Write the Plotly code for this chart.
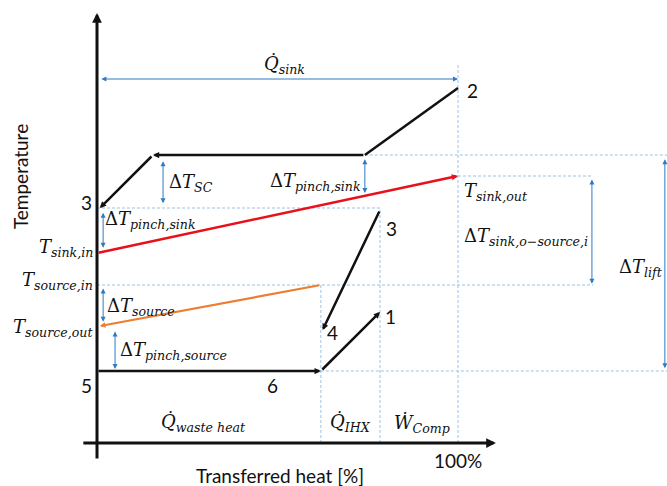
import plotly.graph_objects as go

# ---- cycle breakpoints: transferred heat [% of sink heat] ----
q_start = 0.0
q_waste = 62.0        # end of the waste-heat (evaporator) section, state 6
q_ihx = 78.4          # end of the internal heat exchanger section, state 1
q_total = 100.0       # compressor work completes the 100 %
q_cond_in = 74.2      # start of condensation (sink pinch point)
q_cond_out = 15.5     # end of condensation
q_sc_out = 0.8        # after subcooling, state 3

# ---- temperatures (arbitrary scale) ----
T_evap = 18.0         # states 5 and 6
T_1 = 32.75
T_2 = 88.75
T_cond = 72.0
T_3 = 58.75
T_4 = 28.25
T_sink = [47.5, 66.75]      # sink in / out
T_source = [39.5, 29.25]    # source in / out
T_qsink = 91.0              # height of the Q_sink dimension line

# x positions of the dimension arrows on the right
x_dim_sink_source = 137.1
x_dim_lift = 157.3

BLACK = "#111111"
RED = "#E8101A"
ORANGE = "#ED7D31"
BLUE = "#2E7BC4"
LIGHT = "#9DC3E6"
MATH = "DejaVu Serif"
SANS = "Lato"
DASH = "3px,2px"


def sink_T(q):
    return T_sink[0] + (T_sink[1] - T_sink[0]) * q / q_total


def source_T(q):
    return T_source[1] + (T_source[0] - T_source[1]) * q / q_waste


fig = go.Figure()
ann = []


def line(xs, ys, color, width, dash=None):
    fig.add_trace(go.Scatter(x=xs, y=ys, mode="lines", hoverinfo="skip",
                             line=dict(color=color, width=width, dash=dash),
                             showlegend=False))


def arrow(x0, y0, x1, y1, color, width, size=0.5, side="end"):
    """Line from (x0, y0) to (x1, y1) with an arrow head at the end."""
    ann.append(dict(x=x1, y=y1, ax=x0, ay=y0, xref="x", yref="y",
                    axref="x", ayref="y", text="", showarrow=True,
                    arrowhead=2, startarrowhead=2, arrowsize=size,
                    startarrowsize=size, arrowwidth=width, arrowcolor=color,
                    arrowside=side, standoff=0, startstandoff=0))


def label(x, y, text, size=18, font=MATH, xanchor="center", color=BLACK,
          angle=0):
    ann.append(dict(x=x, y=y, xref="x", yref="y", text=text, showarrow=False,
                    xanchor=xanchor, yanchor="middle", textangle=angle,
                    font=dict(family=font, size=size, color=color)))


def math(main, sub, delta=False):
    prefix = "Δ" if delta else ""
    return "%s<i>%s<sub>%s</sub></i>" % (prefix, main, sub)


# ---- light dashed guide lines ----
line([q_start, q_ihx], [T_3, T_3], LIGHT, 1, DASH)
line([q_cond_in, 158], [T_cond, T_cond], LIGHT, 1, DASH)
line([q_total, x_dim_sink_source + 0.4], [T_sink[1], T_sink[1]], LIGHT, 1, DASH)
line([q_start, x_dim_sink_source + 0.4], [T_source[0], T_source[0]], LIGHT, 1, DASH)
line([q_waste, 158], [T_evap, T_evap], LIGHT, 1, DASH)
line([q_total, q_total], [0, 95], LIGHT, 1, DASH)
line([q_waste, q_waste], [0, T_source[0]], LIGHT, 1, DASH)
line([q_ihx, q_ihx], [0, T_3], LIGHT, 1, DASH)

# ---- axes ----
arrow(q_start, -4.25, q_start, 107.5, BLACK, 3, size=0.65)
arrow(-4.2, 0, 110.5, 0, BLACK, 3, size=0.65)

# ---- refrigerant cycle ----
line([q_total, q_cond_in], [T_2, T_cond], BLACK, 2.5)
arrow(q_start, T_evap, q_waste, T_evap, BLACK, 2.5)            # 5 -> 6
arrow(q_waste, T_evap, q_ihx, T_1, BLACK, 2.5)                 # 6 -> 1
arrow(q_cond_in, T_cond, q_cond_out, T_cond, BLACK, 2.5)       # condensation
arrow(q_cond_out, T_cond, q_sc_out, T_3, BLACK, 2.5)           # subcooling -> 3
arrow(q_ihx, T_3 - 0.5, q_waste + 0.5, T_4, BLACK, 2.5)        # 3 -> 4 (IHX)

# ---- heat sink and heat source streams ----
arrow(q_start, T_sink[0], q_total, T_sink[1], RED, 2.5)
arrow(q_waste, T_source[0], q_start + 0.8, T_source[1], ORANGE, 2.2)

# ---- blue dimension arrows ----
dim = dict(color=BLUE, width=1, size=1.0, side="end+start")
arrow(q_start + 0.8, T_qsink, q_total, T_qsink, **dim)
arrow(18.3, T_cond - 1.2, 18.3, T_3 + 1.2, **dim)
arrow(q_cond_in, T_cond - 0.7, q_cond_in, sink_T(q_cond_in) + 0.7, **dim)
arrow(1.7, T_3 - 0.8, 1.7, sink_T(1.7) + 1.0, **dim)
arrow(1.7, T_source[0] - 0.5, 1.7, source_T(1.7) + 0.8, **dim)
arrow(5.0, source_T(5.0) - 1.8, 5.0, T_evap + 0.5, **dim)
arrow(x_dim_sink_source, T_sink[1] - 0.5, x_dim_sink_source, T_source[0] + 0.3, **dim)
arrow(x_dim_lift, T_cond - 0.7, x_dim_lift, T_evap + 0.7, **dim)

# ---- state point numbers ----
label(q_total + 3.9, T_2 - 0.7, "2", font=SANS, size=19)
label(-2.8, T_3 + 1.5, "3", font=SANS, size=19)
label(q_ihx + 3.3, T_3 - 5.2, "3", font=SANS, size=19)
label(q_waste + 3.1, T_4 - 0.7, "4", font=SANS, size=19)
label(q_ihx + 2.8, T_1 - 1.2, "1", font=SANS, size=19)
label(-2.8, T_evap - 3.5, "5", font=SANS, size=19)
label(48.7, T_evap - 3.5, "6", font=SANS, size=19)

# ---- temperature / heat labels ----
label(52.0, 94.5, math("Q̇", "sink"))
label(19.4, 65.0, math("T", "SC", True), xanchor="left")
label(73.7, 65.2, math("T", "pinch,sink", True), xanchor="right")
label(1.7, 55.8, math("T", "pinch,sink", True), xanchor="left")
label(101.1, 62.8, math("T", "sink,out"), xanchor="left")
label(101.1, 51.5, math("T", "sink,o−source,i", True), xanchor="left")
label(144.0, 43.8, math("T", "lift", True), xanchor="left")
label(-0.5, 48.8, math("T", "sink,in"), xanchor="right")
label(-0.5, 40.5, math("T", "source,in"), xanchor="right")
label(2.2, 34.0, math("T", "source", True), xanchor="left")
label(-0.5, 28.8, math("T", "source,out"), xanchor="right")
label(5.8, 23.0, math("T", "pinch,source", True), xanchor="left")
label(29.4, 5.0, math("Q̇", "waste heat"))
label(70.1, 5.0, math("Q̇", "IHX"))
label(90.0, 5.0, math("Ẇ", "Comp"))

# ---- axis titles ----
label(q_total, -4.3, "100%", font=SANS, size=19)
label(50.7, -8.0, "Transferred heat [%]", font=SANS, size=19)
label(-21.3, 66.5, "Temperature", font=SANS, size=19, angle=-90)

fig.update_layout(
    width=667, height=486,
    margin=dict(l=0, r=0, t=0, b=0),
    paper_bgcolor="white", plot_bgcolor="white",
    xaxis=dict(range=[-97 / 3.61, 570 / 3.61], visible=False, fixedrange=True),
    yaxis=dict(range=[-10.75, 110.75], visible=False, fixedrange=True),
    annotations=ann,
    showlegend=False,
)

fig.write_html("out.html")
